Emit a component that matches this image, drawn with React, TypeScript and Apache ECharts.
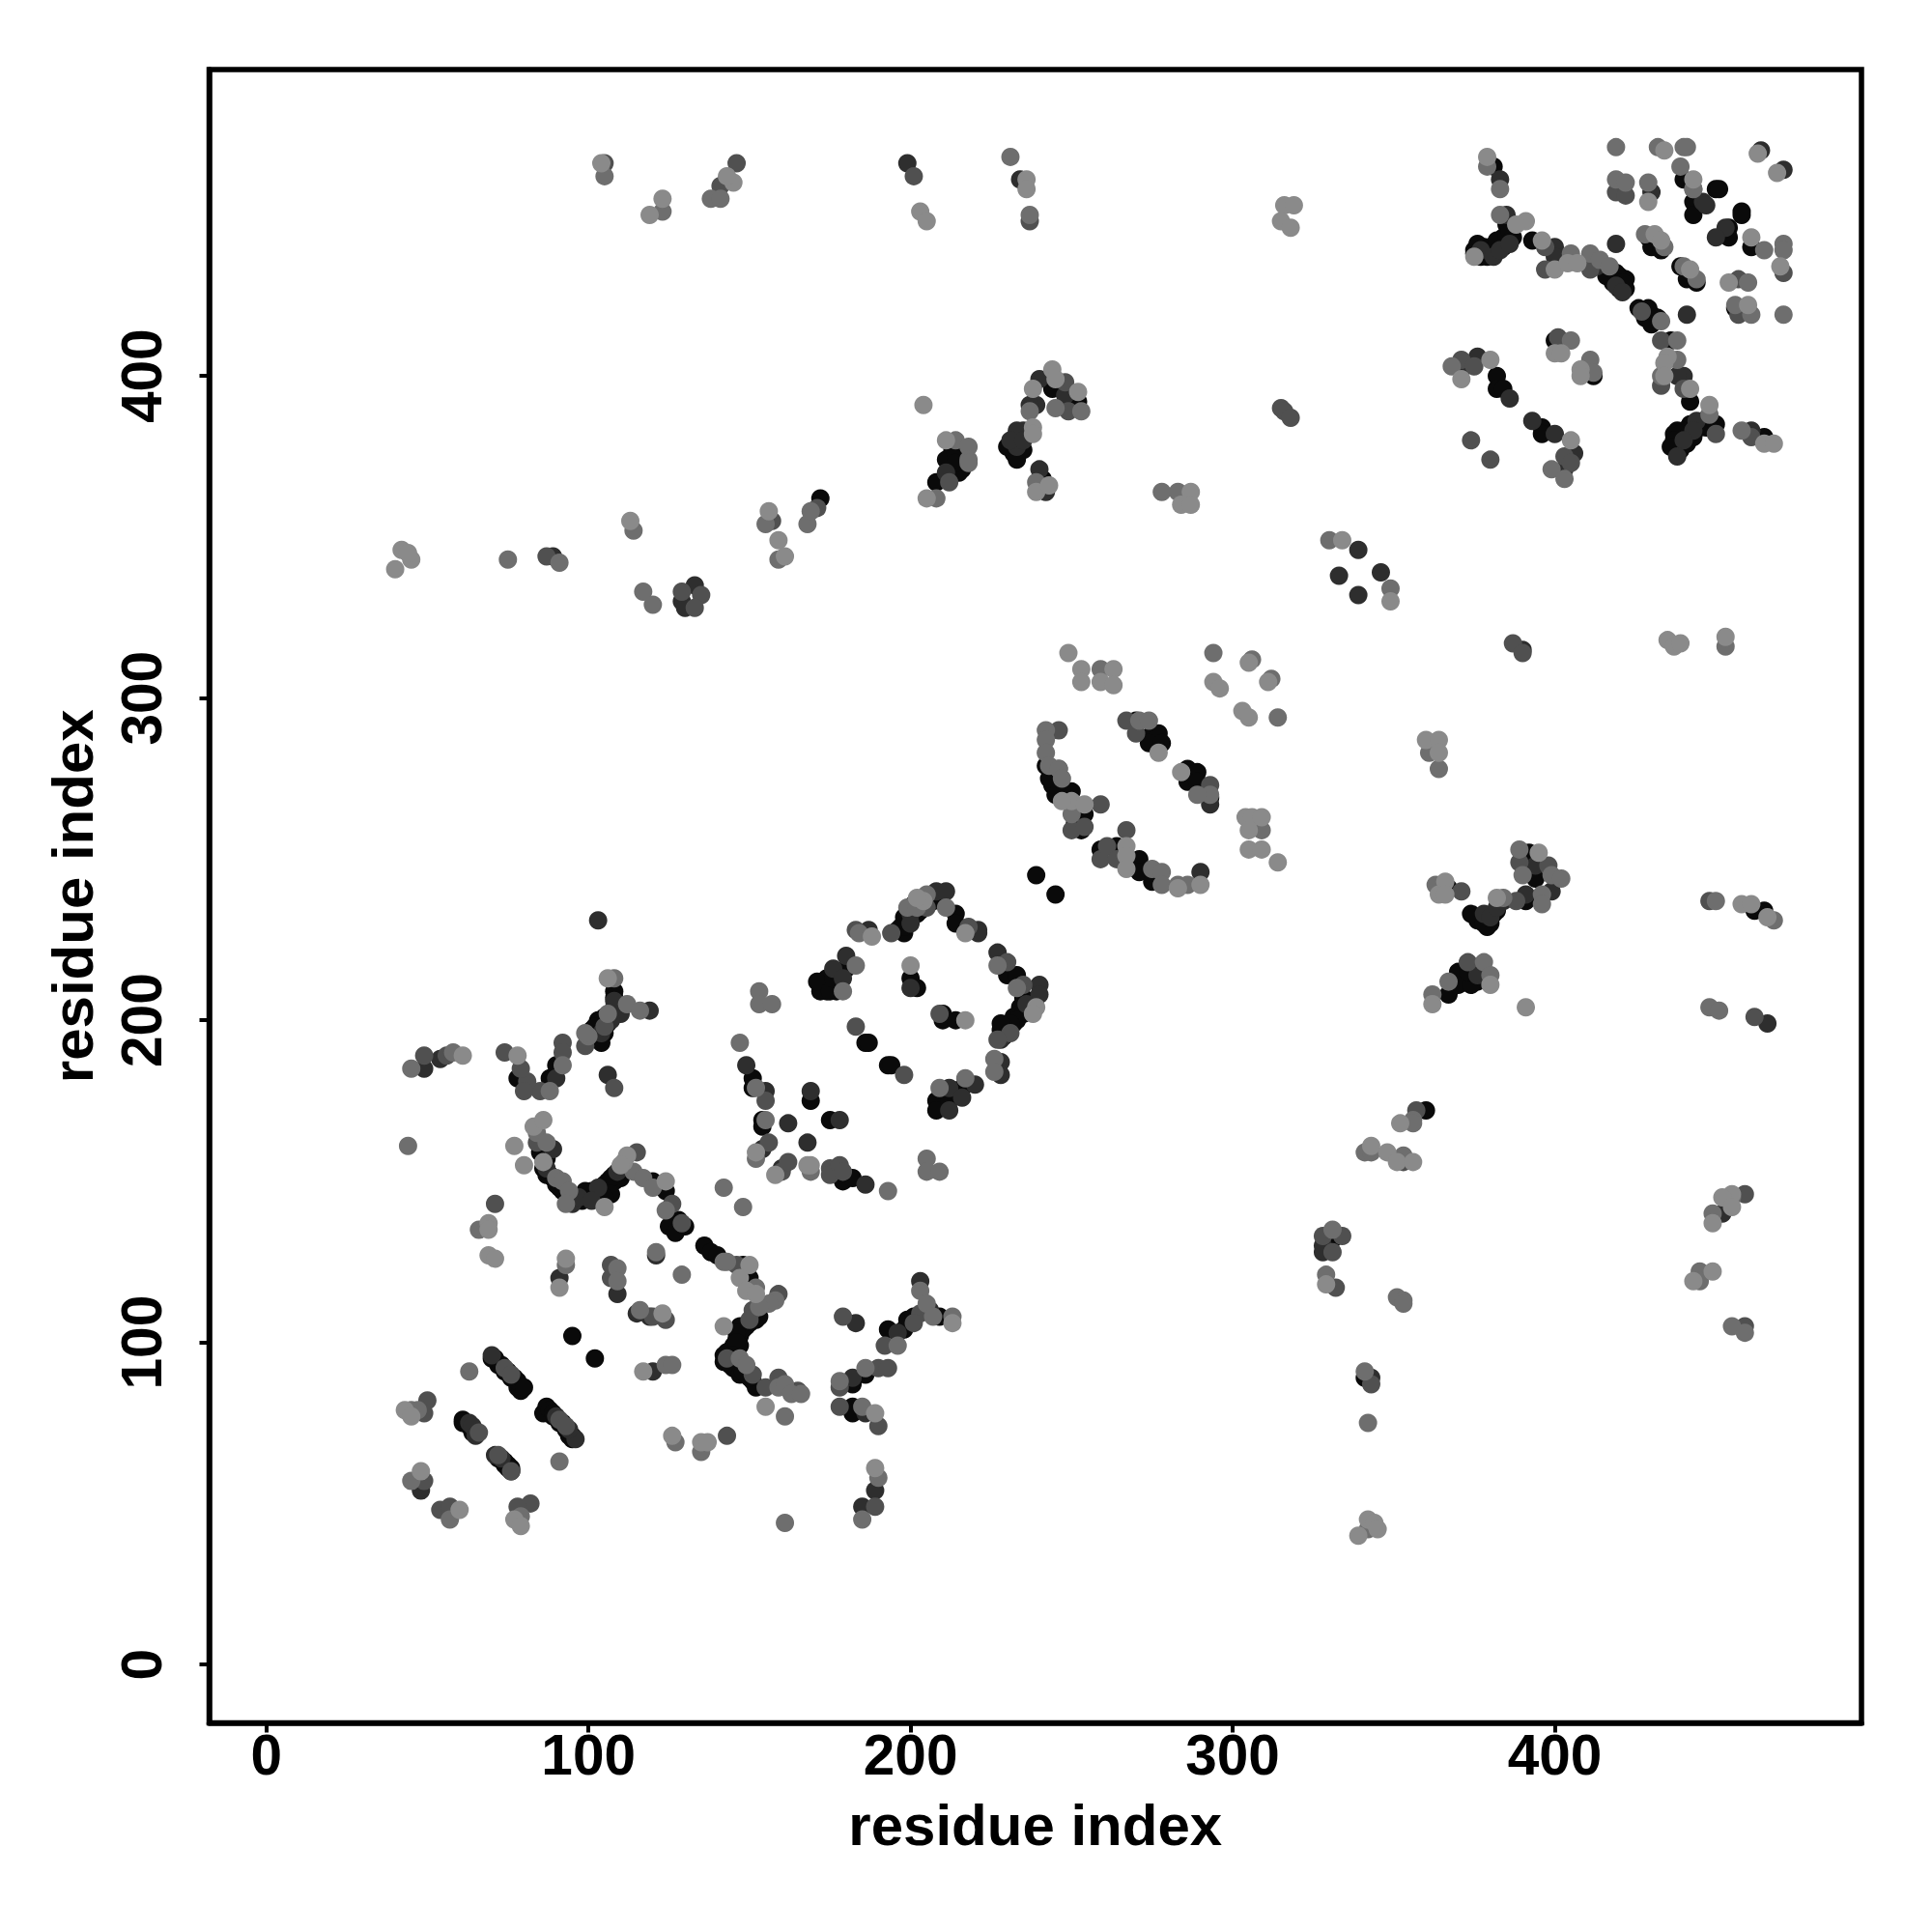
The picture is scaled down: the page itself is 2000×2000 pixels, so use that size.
import React, { useEffect, useRef } from "react";
import * as echarts from "echarts";

const xTicks = [0, 100, 200, 300, 400];
const yTicks = [0, 100, 200, 300, 400];
const axisTitle = "residue index";

const shadeBlack = "#0a0a0a";
const shadeDark = "#2e2e2e";
const shadeMid = "#505050";
const shadeGray = "#6e6e6e";
const shadeLight = "#8a8a8a";

const bandPts = [
[70,95],[72,93],[74,91],[76,89],[78,86],[79,85],[87,79],[89,77],[91,75],[93,73],[94,71],[95,70],[86,78],[61,75],[63,74],[65,72],[64,72],[72,64],[74,62],[75,61],[76,60],
[147,104],[148,105],[149,105],[150,106],[151,107],[152,107],[153,108],[147,102],[148,104],[146,101],[145,99],[147,99],[143,97],[144,93],[145,92],[146,92],[147,90],[149,90],[151,88],[152,86],[142,96],[142,94],
[103,197],[104,198],[106,199],[107,202],[108,204],[108,207],[109,205],[105,196],[103,194],[101,197],
[85,159],[86,158],[87,157],[86,154],[87,152],[89,151],[90,149],[92,147],[94,145],[96,144],[98,144],[100,146],[101,147],[103,146],[105,147],[106,150],[108,152],[108,150],[110,151],[111,153],
[244,273],[245,270],[247,269],[251,261],[252,261],
[199,231],[200,231],[196,228],[198,227],[201,233],[202,233],[204,236],[206,237],[209,238],[234,204],[232,201],[234,202],[236,203],[230,197],[232,199],[228,197],
[176,211],[173,211],[174,213],[177,209],[178,213],[177,214],[174,209],
[375,439],[377,437],[376,441],[378,440],[380,438],[382,439],[384,440],[384,443],[386,443],[385,447],[387,447],[438,383],[437,382],[436,378],[439,377],[441,379],[443,381],[445,384],[446,386],[447,384],
[418,429],[419,430],[420,431],[422,430],[422,427],[420,427],[426,421],[428,420],[430,419],[431,418],
[212,371],[213,373],[214,372],[216,371],[216,375],[213,377],[232,376],[233,380],[234,378],[234,381],[235,377],[231,378],
[378,232],[379,231],[380,230],[381,233],[382,234],[376,231],[379,229],[372,213],[376,212]
];

const blackPts = [
[95,102],[102,95],[71,95],[73,93],[75,91],[77,89],[78,88],[80,86],[87,80],[88,79],[89,78],[92,75],[95,71],[61,76],[74,63],[75,62],[76,61],
[136,130],[138,128],[140,127],[148,124],[150,120],[147,105],[146,103],[146,100],[145,96],[148,91],[150,89],[159,87],
[108,209],[105,201],[103,200],[102,198],[102,195],[104,193],[90,186],[88,182],[78,182],[88,152],[91,148],[99,147],[102,146],[105,149],[107,151],[107,146],[105,145],[120,150],[124,147],[128,138],[130,136],[125,136],[127,134],
[151,182],[151,179],[154,169],[154,167],[169,175],[175,169],[179,150],[182,151],[186,193],[187,193],[193,186],[194,186],[172,209],[171,212],[175,209],[176,213],[180,216],
[197,229],[198,232],[198,229],[203,234],[207,237],[214,233],[214,230],[230,214],[233,214],[235,207],[235,202],[233,200],[231,199],[229,198],[228,199],[229,195],[200,213],[202,210],[210,202],[210,200],[214,200],[208,175],[208,172],[212,175],[216,179],
[239,245],[245,239],[270,293],[274,288],[277,289],[274,286],[278,286],[286,278],[286,274],[289,277],[289,274],[293,269],[242,279],[243,275],[246,271],[250,271],[254,264],[253,259],[259,253],[264,254],[271,250],[271,246],[275,243],
[367,208],[370,215],[370,211],[374,211],[373,215],[374,233],[378,230],[391,237],[392,252],[394,244],[367,241],[462,234],[465,234],
[360,172],[331,132],[341,89],[198,104],[193,104],[199,107],[201,108],[209,108],[186,90],[182,87],[182,80],[182,78],
[381,465],[440,461],[443,454],[443,450],[450,458],[451,458],[458,451],[458,450],[454,446],[454,443],[461,440],[429,443],[430,440],[433,439],[439,434],[441,430],[444,429],[456,421],
[375,438],[379,437],[380,440],[382,442],[385,443],[386,445],[387,443],[393,442],[416,431],[419,432],[421,429],[429,421],[428,418],[432,418],[430,416],[436,411],[442,392],[450,385],[442,385],[440,383],[439,382],[441,381],[437,380],[437,378],[465,381],
[382,400],[382,396],[384,396],[396,384],[396,382],[400,411],[412,400],
[211,374],[214,376],[215,370],[214,373],[208,367],[232,380],[230,378],[233,374],[244,396],[252,392],[241,368],[172,362]
];

const darkPts = [
[70,96],[96,70],[90,77],[94,73],[63,75],[64,74],[65,71],[71,65],[73,64],[48,54],[48,55],[56,48],[91,120],[109,115],[121,127],[115,109],[119,108],[120,91],
[103,231],[108,206],[110,202],[107,200],[104,196],[119,203],[90,182],[106,183],[49,185],[54,188],[89,160],[87,154],[95,143],[97,145],[103,148],[109,153],[101,144],
[149,186],[155,178],[162,168],[169,178],[178,169],[168,162],[154,160],[160,154],[186,149],[176,216],[179,213],[180,220],[187,228],[200,233],[201,236],[200,230],[208,240],[211,240],[221,228],[221,227],
[227,221],[240,211],[240,208],[236,205],[228,194],[228,187],[228,183],[200,210],[212,172],[212,179],[216,176],[220,180],
[293,267],[246,278],[290,246],[376,214],[378,233],[380,232],[382,235],[384,237],[391,239],[399,240],[394,248],[365,242],[466,199],
[328,130],[328,128],[343,89],[452,140],[203,119],[206,110],[196,103],[183,106],[182,89],[186,78],[189,54],[185,49],
[464,470],[471,464],[383,461],[430,457],[446,454],[447,453],[453,446],[450,443],[419,441],[377,439],[381,437],[383,439],[386,441],[385,450],[400,440],[400,437],[410,435],[413,434],[419,428],[421,426],[441,419],
[440,400],[438,400],[444,386],[443,383],[440,380],[438,375],[461,383],[372,403],[376,406],[386,393],[393,386],[400,382],[406,376],[403,371],
[211,370],[235,383],[233,383],[233,378],[231,380],[235,380],[239,391],[237,391],[240,399],[248,394],[240,371],[242,364],[199,466],[234,461],[339,346],[333,338],[339,332],[346,339],[390,315],[133,335],[129,330],[130,328],[89,344]
];

const midPts = [
[71,143],[74,92],[76,90],[91,76],[93,74],[66,72],[72,65],[76,60],[50,82],[49,78],[49,57],[54,48],[57,49],[82,50],[78,49],[143,71],[107,124],[107,120],[120,108],[124,107],[146,124],[159,115],[151,110],[150,107],[143,95],[151,90],[155,86],[159,89],[165,85],
[105,198],[99,192],[92,193],[92,190],[85,178],[81,181],[80,178],[79,185],[74,190],[108,179],[49,189],[56,189],[84,162],[115,159],[129,137],[126,143],
[156,162],[155,175],[160,153],[162,156],[175,154],[175,152],[178,155],[179,153],[183,198],[198,183],[194,227],[183,228],[205,235],[218,229],[230,218],[235,211],[231,196],[227,194],[209,202],
[267,293],[270,289],[293,273],[246,290],[259,267],[250,259],[254,260],[267,259],[259,250],[261,254],[264,250],[371,240],[373,218],[388,237],[398,248],[389,249],[448,237],[462,201],
[357,172],[353,156],[459,146],[459,105],[328,133],[334,133],[331,128],[332,117],[343,87],[179,108],[178,86],[190,92],[193,92],[178,80],[190,74],[192,99],[203,109],[201,106],[189,49],
[419,457],[422,456],[443,458],[457,430],[457,419],[471,432],[397,440],[397,433],[411,433],[427,420],[433,411],[433,397],[440,396],[450,382],[461,381],
[371,405],[375,403],[374,380],[380,374],[403,375],[405,373],[401,412],[212,367],[315,390],[316,389],[318,387],[249,389],[248,398],
[105,466],[141,459],[146,466],[201,462],[237,448],[171,359],[157,355],[135,332],[133,328],[129,333],[87,344],[387,317],[390,314]
];

const grayPts = [
[66,135],[63,91],[91,63],[45,79],[47,79],[45,57],[57,45],[79,46],[93,124],[109,123],[109,119],[116,110],[121,128],[129,121],[124,93],[126,93],[161,44],[161,77],[127,69],[135,66],[142,148],[148,142],
[142,125],[143,125],[152,117],[158,113],[156,112],[153,111],[147,95],[149,93],[159,86],[161,87],[163,84],[166,84],[108,213],[112,205],[116,203],[106,202],[100,195],[99,196],[92,186],[88,178],[44,161],[58,190],[45,185],[84,165],[87,162],[90,151],[92,150],[94,147],[93,143],[114,153],[117,151],[120,148],[124,141],
[153,209],[153,205],[157,205],[147,193],[152,179],[155,169],[152,157],[169,153],[193,147],[205,157],[205,153],[209,153],[183,217],[179,209],[184,227],[199,235],[202,235],[205,239],[211,235],[227,217],[233,210],[226,188],[226,184],[209,179],[217,182],
[294,314],[306,312],[312,306],[314,294],[259,309],[271,293],[274,293],[309,259],[293,270],[289,270],[242,290],[242,287],[242,283],[243,279],[246,278],[247,275],[250,264],[275,247],[278,246],[278,242],[283,242],[286,242],
[362,208],[367,212],[378,218],[380,214],[389,253],[390,245],[396,239],[396,236],[399,245],[402,244],[363,242],[384,238],[450,237],[468,231],[448,204],[451,203],
[356,169],[356,168],[341,159],[343,159],[353,158],[455,145],[449,140],[445,122],[445,119],[455,105],[459,103],[331,135],[329,121],[351,114],[353,113],[353,112],[341,91],[342,75],[342,42],
[203,116],[205,112],[213,108],[207,108],[196,99],[178,88],[186,92],[185,80],[190,58],[185,45],
[419,471],[432,471],[440,471],[441,471],[379,465],[383,458],[419,461],[422,460],[429,460],[439,465],[443,458],[465,439],[471,441],[471,439],[428,444],[434,440],[440,434],[444,430],[460,429],[456,422],[461,419],[471,419],
[383,450],[405,438],[411,438],[414,436],[417,434],[433,417],[438,411],[438,405],[433,400],[448,388],[458,383],
[368,403],[399,371],[403,368],[411,405],[405,411],[412,401],
[214,380],[218,378],[218,374],[218,373],[208,362],[237,389],[245,390],[239,367],[253,389],
[278,364],[283,364],[75,343],[91,342],[105,462],[123,451],[138,455],[141,455],[237,450],[231,468],[114,352],[117,333],[120,329],[155,354],[159,343],[168,354],[169,358],[330,349],[349,334],[361,283],[364,278],[453,316]
];

const lightPts = [
[69,137],[69,135],[69,127],[71,126],[93,126],[91,117],[123,109],[117,91],[43,79],[45,77],[48,60],[60,48],[77,45],[79,43],[126,71],[135,69],[137,69],[155,80],[105,142],
[150,124],[147,120],[142,105],[149,116],[152,115],[106,213],[78,189],[61,189],[77,161],[80,155],[83,167],[86,169],[86,156],[111,156],[112,158],[110,155],[124,150],
[152,159],[158,152],[168,155],[169,155],[188,226],[200,217],[217,200],[204,237],[202,238],[217,227],[239,204],[238,202],
[249,314],[253,309],[253,305],[259,305],[263,309],[263,304],[305,311],[311,305],[294,305],[296,303],[303,296],[305,294],[277,283],[284,277],[304,263],[306,263],[309,263],[305,259],[305,253],[309,253],[314,249],
[250,268],[247,268],[254,267],[267,254],[267,251],[267,247],[283,241],[290,242],[391,204],[362,205],[380,211],[395,252],[364,239],[366,243],[366,239],[382,238],[458,236],[461,236],[466,232],
[352,168],[343,161],[348,159],[351,156],[356,156],[455,146],[452,145],[455,142],[449,137],[449,122],[443,119],[329,118],[339,40],[342,45],[344,44],[345,42],
[213,106],[189,78],[189,61],
[379,468],[434,470],[463,469],[469,463],[429,454],[443,461],[470,434],[431,444],[433,442],[442,433],[454,429],[460,422],[461,443],[391,448],[388,447],[396,442],[400,433],[404,435],[407,435],[375,437],[435,406],[434,404],[442,396],[448,391],[434,400],[465,379],[468,379],
[371,399],[380,405],[405,380],[400,407],[402,407],[408,402],[408,400],
[204,391],[211,380],[205,362],[238,384],[238,382],[238,396],[244,402],[245,399],[252,395],[239,364],[243,366],[284,360],[287,364],[287,360],
[40,340],[42,346],[45,343],[44,345],[113,355],[104,466],[119,450],[123,455],[145,460],[143,462],[203,451],[205,448],[236,461],[236,458],[316,453],[319,453],[315,448],[318,446],
[156,358],[159,349],[161,344],[334,349],[349,330],[360,287],[364,287],[364,283],[435,318],[437,316],[439,317],[453,319]
];

const layers: [number[][], string][] = [
  [bandPts, shadeBlack],
  [blackPts, shadeBlack],
  [darkPts, shadeDark],
  [midPts, shadeMid],
  [grayPts, shadeGray],
  [lightPts, shadeLight],
];

const font = "'Liberation Sans', Arial, sans-serif";
const axisBase = (ticks: number[], min: number, max: number, position: string, rotate: number, margin: number, gap: number) => ({
  type: "value" as const,
  position,
  min,
  max,
  name: axisTitle,
  nameLocation: "middle" as const,
  nameGap: gap,
  nameTextStyle: { color: "#000", fontFamily: font, fontWeight: "bold" as const, fontSize: 60 },
  splitLine: { show: false },
  axisLine: { show: true, onZero: false, lineStyle: { color: "#000", width: 5.5 } },
  axisTick: { show: true, length: 10, customValues: ticks, lineStyle: { color: "#000", width: 4 } },
  axisLabel: {
    show: true, customValues: ticks, rotate, margin,
    color: "#000", fontFamily: font, fontWeight: "bold" as const, fontSize: 58.5,
  },
});

export default function App() {
  const ref = useRef<HTMLDivElement>(null);
  useEffect(() => {
    const chart = echarts.init(ref.current!, null, { renderer: "svg" });
    chart.setOption({
      animation: false,
      backgroundColor: "#fff",
      grid: { show: true, left: 216.5, top: 72, width: 1710.5, height: 1711.5, borderColor: "#000", borderWidth: 5.5 },
      xAxis: axisBase(xTicks, -17.75, 495.2, "bottom", 0, 3, 76),
      yAxis: axisBase(yTicks, -18.1, 495.1, "left", 90, 41, 111),
      series: layers.map(([data, color]) => ({
        type: "scatter",
        data,
        symbol: "circle",
        symbolSize: 19,
        itemStyle: { color, opacity: 1 },
        silent: true,
      })),
    });
    return () => chart.dispose();
  }, []);
  return <div ref={ref} style={{ position: "absolute", left: 0, top: 0, width: 2000, height: 2000 }} />;
}
